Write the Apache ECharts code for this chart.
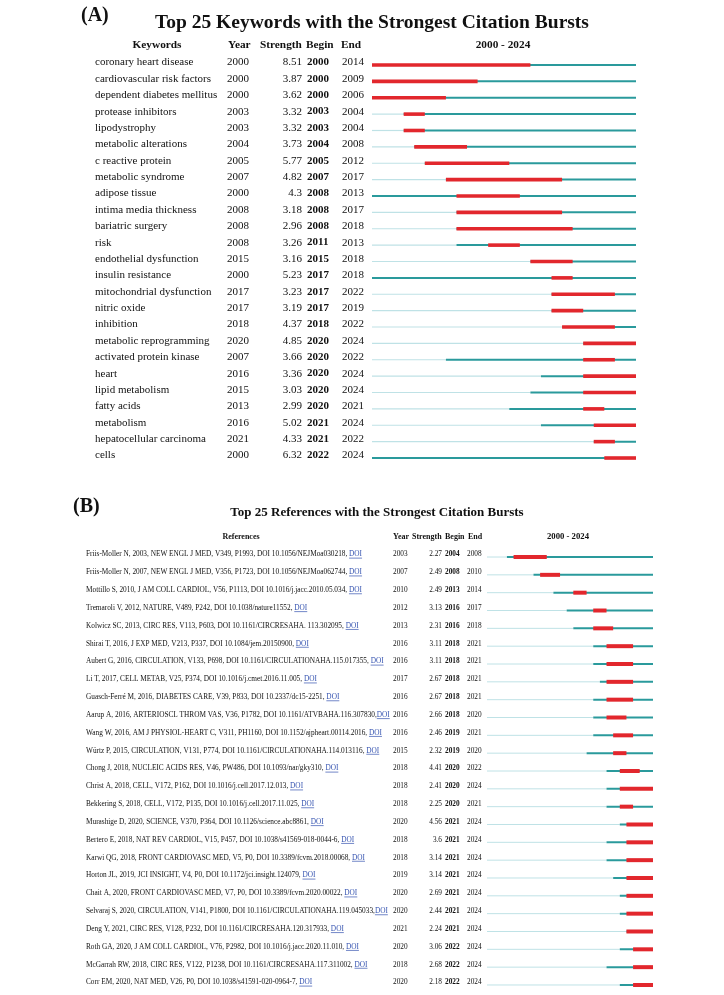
<!DOCTYPE html>
<html><head><meta charset="utf-8">
<script src="https://cdn.jsdelivr.net/npm/echarts@6/dist/echarts.min.js"></script>
<style>html,body{margin:0;padding:0;background:#fff}#c{width:724px;height:995px}</style>
</head><body><div id="c"></div>
<script>
// ---------- DATA ----------
const yearRange = [2000, 2024];

const kwNames = ["coronary heart disease","cardiovascular risk factors","dependent diabetes mellitus","protease inhibitors","lipodystrophy","metabolic alterations","c reactive protein","metabolic syndrome","adipose tissue","intima media thickness","bariatric surgery","risk","endothelial dysfunction","insulin resistance","mitochondrial dysfunction","nitric oxide","inhibition","metabolic reprogramming","activated protein kinase","heart","lipid metabolism","fatty acids","metabolism","hepatocellular carcinoma","cells"];
const kwYear = [2000,2000,2000,2003,2003,2004,2005,2007,2000,2008,2008,2008,2015,2000,2017,2017,2018,2020,2007,2016,2015,2013,2016,2021,2000];
const kwStrength = ["8.51","3.87","3.62","3.32","3.32","3.73","5.77","4.82","4.3","3.18","2.96","3.26","3.16","5.23","3.23","3.19","4.37","4.85","3.66","3.36","3.03","2.99","5.02","4.33","6.32"];
const kwBegin = [2000,2000,2000,2003,2003,2004,2005,2007,2008,2008,2008,2011,2015,2017,2017,2017,2018,2020,2020,2020,2020,2020,2021,2021,2022];
const kwEnd = [2014,2009,2006,2004,2004,2008,2012,2017,2013,2017,2018,2013,2018,2018,2022,2019,2022,2024,2022,2024,2024,2021,2024,2022,2024];

const refTexts = [
"Friis-Moller N, 2003, NEW ENGL J MED, V349, P1993, DOI 10.1056/NEJMoa030218, ",
"Friis-Moller N, 2007, NEW ENGL J MED, V356, P1723, DOI 10.1056/NEJMoa062744, ",
"Mottillo S, 2010, J AM COLL CARDIOL, V56, P1113, DOI 10.1016/j.jacc.2010.05.034, ",
"Tremaroli V, 2012, NATURE, V489, P242, DOI 10.1038/nature11552, ",
"Kolwicz SC, 2013, CIRC RES, V113, P603, DOI 10.1161/CIRCRESAHA. 113.302095, ",
"Shirai T, 2016, J EXP MED, V213, P337, DOI 10.1084/jem.20150900, ",
"Aubert G, 2016, CIRCULATION, V133, P698, DOI 10.1161/CIRCULATIONAHA.115.017355, ",
"Li T, 2017, CELL METAB, V25, P374, DOI 10.1016/j.cmet.2016.11.005, ",
"Guasch-Ferré M, 2016, DIABETES CARE, V39, P833, DOI 10.2337/dc15-2251, ",
"Aarup A, 2016, ARTERIOSCL THROM VAS, V36, P1782, DOI 10.1161/ATVBAHA.116.307830,",
"Wang W, 2016, AM J PHYSIOL-HEART C, V311, PH1160, DOI 10.1152/ajpheart.00114.2016, ",
"Würtz P, 2015, CIRCULATION, V131, P774, DOI 10.1161/CIRCULATIONAHA.114.013116, ",
"Chong J, 2018, NUCLEIC ACIDS RES, V46, PW486, DOI 10.1093/nar/gky310, ",
"Christ A, 2018, CELL, V172, P162, DOI 10.1016/j.cell.2017.12.013, ",
"Bekkering S, 2018, CELL, V172, P135, DOI 10.1016/j.cell.2017.11.025, ",
"Murashige D, 2020, SCIENCE, V370, P364, DOI 10.1126/science.abc8861, ",
"Bertero E, 2018, NAT REV CARDIOL, V15, P457, DOI 10.1038/s41569-018-0044-6, ",
"Karwi QG, 2018, FRONT CARDIOVASC MED, V5, P0, DOI 10.3389/fcvm.2018.00068, ",
"Horton JL, 2019, JCI INSIGHT, V4, P0, DOI 10.1172/jci.insight.124079, ",
"Chait A, 2020, FRONT CARDIOVASC MED, V7, P0, DOI 10.3389/fcvm.2020.00022, ",
"Selvaraj S, 2020, CIRCULATION, V141, P1800, DOI 10.1161/CIRCULATIONAHA.119.045033,",
"Deng Y, 2021, CIRC RES, V128, P232, DOI 10.1161/CIRCRESAHA.120.317933, ",
"Roth GA, 2020, J AM COLL CARDIOL, V76, P2982, DOI 10.1016/j.jacc.2020.11.010, ",
"McGarrah RW, 2018, CIRC RES, V122, P1238, DOI 10.1161/CIRCRESAHA.117.311002, ",
"Corr EM, 2020, NAT MED, V26, P0, DOI 10.1038/s41591-020-0964-7, "
];
const refYear = [2003,2007,2010,2012,2013,2016,2016,2017,2016,2016,2016,2015,2018,2018,2018,2020,2018,2018,2019,2020,2020,2021,2020,2018,2020];
const refStrength = ["2.27","2.49","2.49","3.13","2.31","3.11","3.11","2.67","2.67","2.66","2.46","2.32","4.41","2.41","2.25","4.56","3.6","3.14","3.14","2.69","2.44","2.24","3.06","2.68","2.18"];
const refBegin = [2004,2008,2013,2016,2016,2018,2018,2018,2018,2018,2019,2019,2020,2020,2020,2021,2021,2021,2021,2021,2021,2021,2022,2022,2022];
const refEnd = [2008,2010,2014,2017,2018,2021,2021,2021,2021,2020,2021,2020,2022,2024,2021,2024,2024,2024,2024,2024,2024,2024,2024,2024,2024];

// ---------- STYLE / LAYOUT ----------
const FONT = '"Liberation Serif", "Times New Roman", serif';
const C_LIGHT = '#bfe2e6', C_TEAL = '#2a9a9c', C_RED = '#e2272d', C_TXT = '#111', C_DOI = '#3553b0';

const cfgA = {
  fs: 11, textDy: -2.5, lw: [1.2, 2, 3.6],
  cols: { name: 95, year: 227, strengthRight: 302, begin: 307, end: 342 }
};
const cfgB = {
  fs: 7.3, textDy: -2.5, lw: [1, 2, 4],
  cols: { name: 86, year: 393, strengthRight: 442, begin: 445, end: 467 }
};

const measureCtx = document.createElement('canvas').getContext('2d');
function textWidth(str, fs) {
  measureCtx.font = fs + 'px ' + FONT;
  return measureCtx.measureText(str).width;
}

function makeRender(cfg, names, strengths, isRef) {
  return function (params, api) {
    const i = api.value(0);
    const yr = api.value(1), b = api.value(2), e = api.value(3);
    const y = api.coord([yearRange[0], i])[1];
    const X = v => api.coord([v, i])[0];
    const x0 = X(yearRange[0]), x1 = X(yearRange[1] + 1);
    const ty = y + cfg.textDy;
    const txt = (t, x, align, bold, color) => ({
      type: 'text', silent: true,
      style: { text: t, x: x, y: ty, align: align, verticalAlign: 'middle',
        font: (bold ? 'bold ' : '') + cfg.fs + 'px ' + FONT, fill: color || C_TXT }
    });
    const children = [];
    if (yr > yearRange[0]) children.push({ type: 'line', shape: { x1: x0, y1: y, x2: X(yr), y2: y }, style: { stroke: C_LIGHT, lineWidth: cfg.lw[0] } });
    children.push({ type: 'line', shape: { x1: X(yr), y1: y, x2: x1, y2: y }, style: { stroke: C_TEAL, lineWidth: cfg.lw[1] } });
    children.push({ type: 'line', shape: { x1: X(b), y1: y, x2: X(e + 1), y2: y }, style: { stroke: C_RED, lineWidth: cfg.lw[2] } });
    const name = names[i];
    children.push(txt(name, cfg.cols.name, 'left', false));
    if (isRef) {
      const w = textWidth(name, cfg.fs);
      const dw = textWidth('DOI', cfg.fs);
      const dx = cfg.cols.name + w;
      children.push(txt('DOI', dx, 'left', false, C_DOI));
      children.push({ type: 'line', shape: { x1: dx, y1: ty + 3.6, x2: dx + dw, y2: ty + 3.6 }, style: { stroke: C_DOI, lineWidth: 0.7 } });
    }
    children.push(txt(String(yr), cfg.cols.year, 'left', false));
    children.push(txt(strengths[i], cfg.cols.strengthRight, 'right', false));
    children.push(txt(String(b), cfg.cols.begin, 'left', true));
    children.push(txt(String(e), cfg.cols.end, 'left', false));
    return { type: 'group', children: children };
  };
}

const chart = echarts.init(document.getElementById('c'), null, { renderer: 'canvas' });

function hdr(t, x, y, fs, align) {
  return { type: 'text', left: undefined, silent: true,
    x: x, y: y,
    style: { text: t, font: 'bold ' + fs + 'px ' + FONT, fill: C_TXT, align: align || 'left', verticalAlign: 'middle' } };
}

chart.setOption({
  backgroundColor: '#fff',
  animation: false,
  grid: [
    { left: 372, width: 264, top: 56.8, height: 409.4 },
    { left: 487, width: 166, top: 548.1, height: 445.8 }
  ],
  xAxis: [
    { gridIndex: 0, type: 'value', min: yearRange[0], max: yearRange[1] + 1, show: false },
    { gridIndex: 1, type: 'value', min: yearRange[0], max: yearRange[1] + 1, show: false }
  ],
  yAxis: [
    { gridIndex: 0, type: 'category', data: kwNames, inverse: true, show: false },
    { gridIndex: 1, type: 'category', data: refTexts, inverse: true, show: false }
  ],
  graphic: [
    hdr('(A)', 81, 16, 20),
    hdr('Top 25 Keywords with the Strongest Citation Bursts', 372, 23, 19.5, 'center'),
    hdr('Keywords', 157, 45, 11.3, 'center'),
    hdr('Year', 228, 45, 11.3),
    hdr('Strength', 260, 45, 11.3),
    hdr('Begin', 306, 45, 11.3),
    hdr('End', 341, 45, 11.3),
    hdr('2000 - 2024', 503, 45, 11.3, 'center'),
    hdr('(B)', 73, 507, 20),
    hdr('Top 25 References with the Strongest Citation Bursts', 377, 513, 13, 'center'),
    hdr('References', 241, 537, 8, 'center'),
    hdr('Year', 393, 537, 8),
    hdr('Strength', 412, 537, 8),
    hdr('Begin', 445, 537, 8),
    hdr('End', 468, 537, 8),
    hdr('2000 - 2024', 568, 537, 8.7, 'center')
  ],
  series: [
    { type: 'custom', xAxisIndex: 0, yAxisIndex: 0, clip: false, silent: true,
      encode: { y: 0, x: [1, 2, 3] },
      renderItem: makeRender(cfgA, kwNames, kwStrength, false),
      data: kwNames.map((n, i) => [i, kwYear[i], kwBegin[i], kwEnd[i]]) },
    { type: 'custom', xAxisIndex: 1, yAxisIndex: 1, clip: false, silent: true,
      encode: { y: 0, x: [1, 2, 3] },
      renderItem: makeRender(cfgB, refTexts, refStrength, true),
      data: refTexts.map((n, i) => [i, refYear[i], refBegin[i], refEnd[i]]) }
  ]
});
</script></body></html>
